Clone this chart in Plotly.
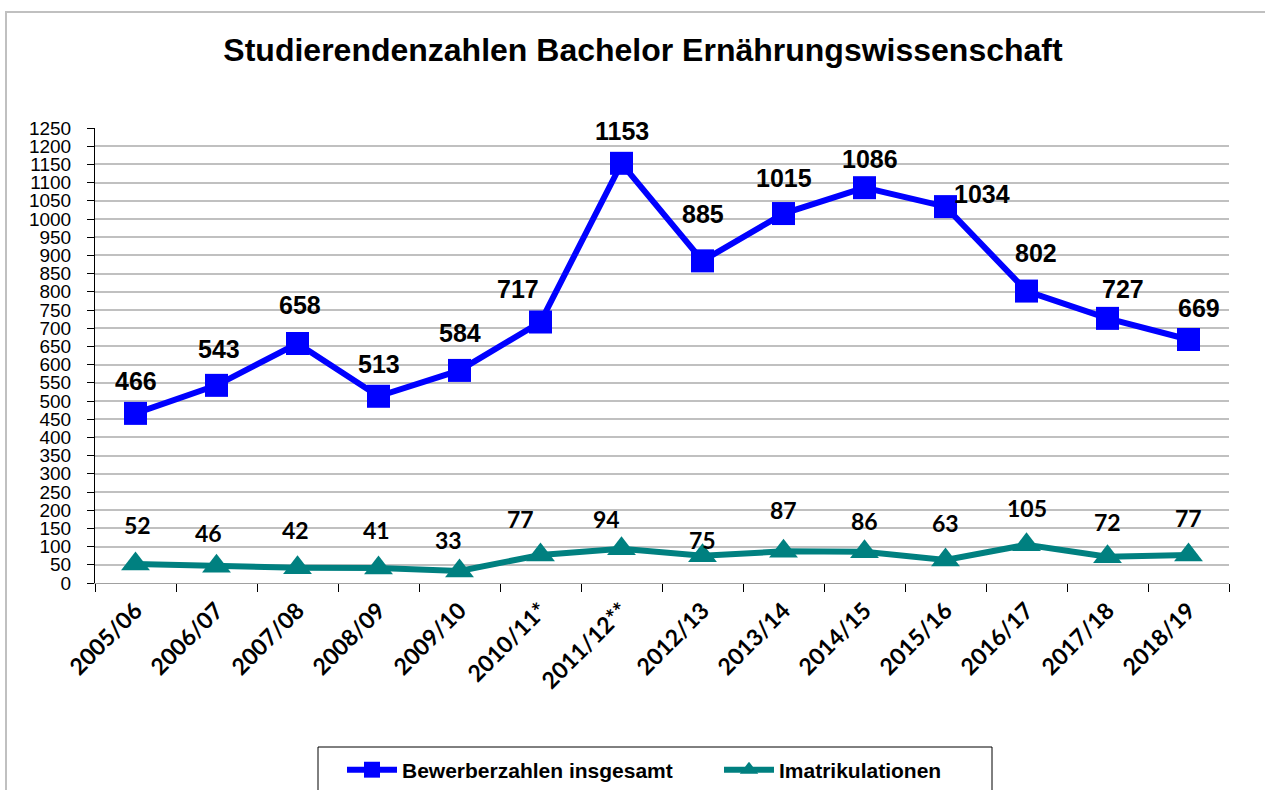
import plotly.graph_objects as go

categories = ["2005/06", "2006/07", "2007/08", "2008/09", "2009/10", "2010/11*", "2011/12**",
              "2012/13", "2013/14", "2014/15", "2015/16", "2016/17", "2017/18", "2018/19"]
bewerber = [466, 543, 658, 513, 584, 717, 1153, 885, 1015, 1086, 1034, 802, 727, 669]
imatrikulationen = [52, 46, 42, 41, 33, 77, 94, 75, 87, 86, 63, 105, 72, 77]
y_ticks = list(range(0, 1251, 50))

# label offsets in pixels (x, y) relative to each point
bew_off = [(0, 32), (2, 36), (2, 38), (0, 32), (0, 37), (-23, 33), (0, 32), (0, 47), (0, 36), (5, 29), (36, 13), (9, 38), (15, 29), (10, 31)]
ima_off = [(2, 39), (-8, 33), (-2, 38), (-2, 38), (-11, 31), (-20, 36), (-15, 30), (0, 16), (0, 41), (0, 31), (0, 37), (0, 37), (0, 35), (0, 37)]

W, H = 1265, 790
L, R, T, B = 95, 36, 128, 207
pw, ph = W - L - R, H - T - B

fig = go.Figure()
fig.add_trace(go.Scatter(
    x=categories, y=bewerber, mode="lines+markers", name="Bewerberzahlen insgesamt",
    line=dict(color="#0000FF", width=6), marker=dict(symbol="square", size=23, color="#0000FF")))
fig.add_trace(go.Scatter(
    x=categories, y=imatrikulationen, mode="lines+markers", name="Imatrikulationen",
    line=dict(color="#008080", width=6), marker=dict(symbol="triangle-up", size=25, color="#008080")))

for c, v, (dx, dy) in zip(categories, bewerber, bew_off):
    fig.add_annotation(x=c, y=v, text=str(v), showarrow=False, xshift=dx, yshift=dy,
                       font=dict(family="Liberation Sans, Arial", size=25, color="black", weight="bold"))
for c, v, (dx, dy) in zip(categories, imatrikulationen, ima_off):
    fig.add_annotation(x=c, y=v, text=str(v), showarrow=False, xshift=dx, yshift=dy,
                       font=dict(family="Lato, Carlito, sans-serif", size=23, color="black", weight="bold"))

# outer chart frame
fig.add_shape(type="rect", xref="paper", yref="paper",
              x0=(6 - L) / pw, x1=(W + 20 - L) / pw,
              y0=-(H + 20 - (H - B)) / ph, y1=1 + (T - 12) / ph,
              line=dict(color="#c0c0c0", width=2), layer="below")
# legend box
fig.add_shape(type="rect", xref="paper", yref="paper",
              x0=(318 - L) / pw, x1=(992 - L) / pw,
              y0=-(800 - (H - B)) / ph, y1=-(747 - (H - B)) / ph,
              line=dict(color="black", width=1))

fig.update_layout(
    width=W, height=H,
    margin=dict(l=L, r=R, t=T, b=B),
    paper_bgcolor="white", plot_bgcolor="white",
    title=dict(text="Studierendenzahlen Bachelor Ernährungswissenschaft",
               x=643 / W, xanchor="center", y=1 - 50 / H, yanchor="middle",
               font=dict(family="Liberation Sans, Arial", size=32, color="black", weight="bold")),
    showlegend=True,
    legend=dict(orientation="h", xref="container", x=342 / W, xanchor="left",
                yref="container", y=1 - 770 / H, yanchor="middle",
                font=dict(family="Liberation Sans, Arial", size=21, color="black", weight="bold"),
                bgcolor="rgba(0,0,0,0)", itemwidth=50, tracegroupgap=0,
                entrywidth=312, entrywidthmode="pixels"),
    xaxis=dict(type="category", tickangle=-45, ticks="outside", tickson="boundaries",
               ticklen=8, tickcolor="black", showline=True, linecolor="#a0a0a0", linewidth=1,
               showgrid=False, range=[-0.5, len(categories) - 0.5], automargin=False,
               ticklabelstandoff=4,
               tickfont=dict(family="Lato, Carlito, sans-serif", size=23, color="black", weight="bold")),
    yaxis=dict(range=[0, 1250], tickvals=y_ticks, ticks="outside", ticklen=7, tickcolor="black",
               showline=True, linecolor="black", linewidth=1, showgrid=True, automargin=False,
               gridcolor="#c0c0c0", gridwidth=2, zeroline=False, ticklabelstandoff=12,
               tickfont=dict(family="Liberation Sans, Arial", size=19, color="black")),
)

fig.write_html("out.html")
